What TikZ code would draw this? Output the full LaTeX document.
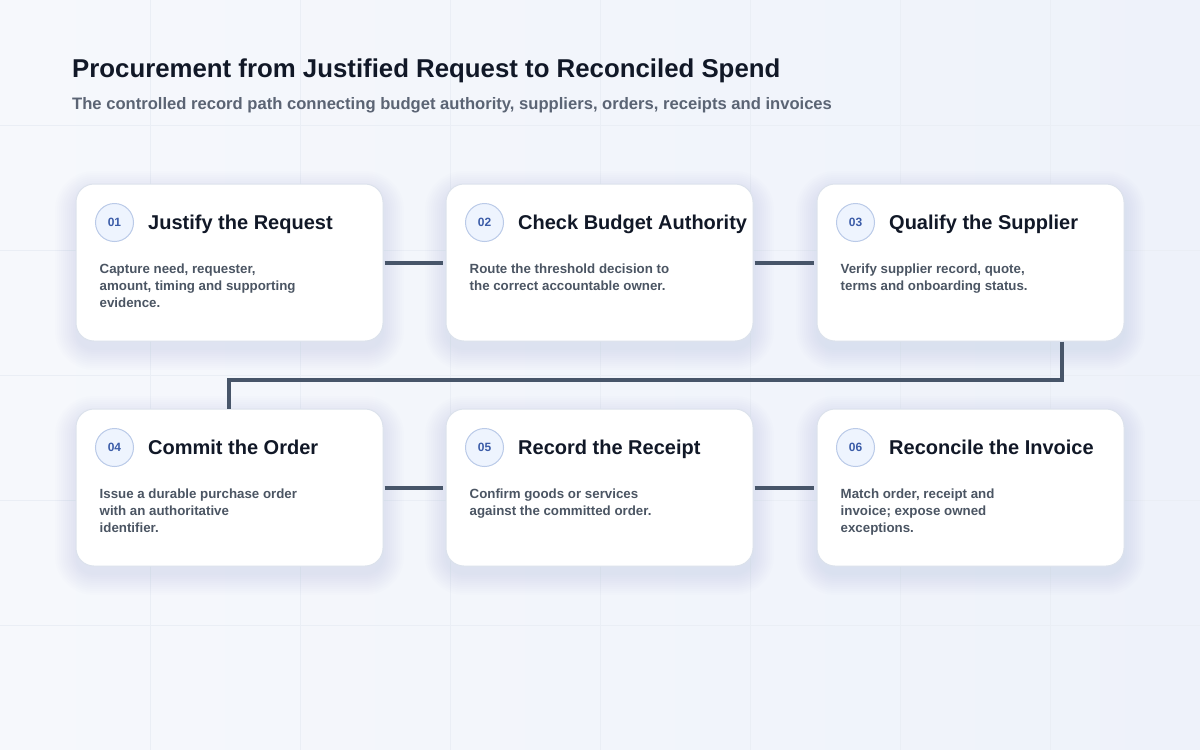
\documentclass[tikz,border=0pt]{standalone}
\usepackage{fontspec}
\setmainfont{Liberation Sans}
\usetikzlibrary{calc}
\definecolor{bgA}{HTML}{F6F8FC}
\definecolor{bgB}{HTML}{EEF2FA}
\definecolor{gridc}{HTML}{EAEEF5}
\definecolor{titlec}{HTML}{111827}
\definecolor{subc}{HTML}{5B6474}
\definecolor{descc}{HTML}{4B5563}
\definecolor{connc}{HTML}{475569}
\definecolor{cardb}{HTML}{DCE2EC}
\definecolor{circf}{HTML}{EEF4FE}
\definecolor{circb}{HTML}{BACAE8}
\definecolor{numc}{HTML}{3B5CA8}
\definecolor{shadc}{HTML}{8490AC}
\tikzset{
  card/.style={draw=cardb, line width=1pt, fill=white, rounded corners=18pt,
    minimum width=307pt, minimum height=157pt, inner sep=0pt},
  numcirc/.style={circle, draw=circb, line width=1pt, fill=circf, minimum size=38pt,
    inner sep=0pt, text=numc, font=\fontsize{12}{12}\selectfont\bfseries},
  cardtitle/.style={anchor=base west, inner sep=0pt, text=titlec,
    font=\fontsize{20}{24}\selectfont\bfseries},
  carddesc/.style={anchor=north west, inner sep=0pt, align=left, text=descc,
    font=\fontsize{13.3}{17}\selectfont\bfseries},
  conn/.style={draw=connc, line width=4pt, line join=miter},
}
\newcommand{\fs}{\rule{0pt}{10pt}}
\begin{document}
\begin{tikzpicture}[x=1pt,y=-1pt]
\useasboundingbox (0,0) rectangle (1200,750);
\shade[left color=bgA, right color=bgB] (0,0) rectangle (1200,750);
\foreach \gx in {150,300,...,1050} \draw[gridc, line width=0.6pt] (\gx,0) -- (\gx,750);
\foreach \gy in {125,250,...,625} \draw[gridc, line width=0.6pt] (0,\gy) -- (1200,\gy);

\node[anchor=base west, inner sep=0pt, text=titlec, font=\fontsize{25.8}{30}\selectfont\bfseries] (title) at (72,77)
  {Procurement from Justified Request to Reconciled Spend};
\node[anchor=base west, inner sep=0pt, text=subc, font=\fontsize{16.6}{20}\selectfont\bfseries] (subtitle) at (72,109)
  {The controlled record path connecting budget authority, suppliers, orders, receipts and invoices};

\coordinate (c1) at (229.5,262.5);
\coordinate (c2) at (599.5,262.5);
\coordinate (c3) at (970.5,262.5);
\coordinate (c4) at (229.5,487.5);
\coordinate (c5) at (599.5,487.5);
\coordinate (c6) at (970.5,487.5);

% soft shadows
\foreach \c in {c1,c2,c3,c4,c5,c6}
  \foreach \i in {1,3,...,21}
    \fill[shadc, opacity=0.013, rounded corners={18pt+\i pt}]
      ($(\c)+(-153.5-\i,-78.5-\i+8)$) rectangle ($(\c)+(153.5+\i,78.5+\i+8)$);

\node[card] (k1) at (c1) {};
\node[card] (k2) at (c2) {};
\node[card] (k3) at (c3) {};
\node[card] (k4) at (c4) {};
\node[card] (k5) at (c5) {};
\node[card] (k6) at (c6) {};

\draw[conn] ([xshift=1pt]k1.east) -- ([xshift=-3pt]k2.west);
\draw[conn] ([xshift=1pt]k2.east) -- ([xshift=-3pt]k3.west);
\draw[conn] ([xshift=1pt]k4.east) -- ([xshift=-3pt]k5.west);
\draw[conn] ([xshift=1pt]k5.east) -- ([xshift=-3pt]k6.west);
\draw[conn] ([xshift=91.5pt]k3.south) -- ++(0,38) -| ([xshift=-0.5pt]k4.north);

% card 1
\node[numcirc] (n1) at ($(k1.north west)+(39,39)$) {01};
\node[cardtitle] (t1) at ($(k1.north west)+(72.5,46)$) {Justify the Request};
\node[carddesc] (d1) at ($(k1.north west)+(24,79.5)$) {\fs Capture need, requester,\\amount, timing and supporting\\evidence.};
% card 2
\node[numcirc] (n2) at ($(k2.north west)+(39,39)$) {02};
\node[cardtitle] (t2) at ($(k2.north west)+(72.5,46)$) {Check Budget Authority};
\node[carddesc] (d2) at ($(k2.north west)+(24,79.5)$) {\fs Route the threshold decision to\\the correct accountable owner.};
% card 3
\node[numcirc] (n3) at ($(k3.north west)+(39,39)$) {03};
\node[cardtitle] (t3) at ($(k3.north west)+(72.5,46)$) {Qualify the Supplier};
\node[carddesc] (d3) at ($(k3.north west)+(24,79.5)$) {\fs Verify supplier record, quote,\\terms and onboarding status.};
% card 4
\node[numcirc] (n4) at ($(k4.north west)+(39,39)$) {04};
\node[cardtitle] (t4) at ($(k4.north west)+(72.5,46)$) {Commit the Order};
\node[carddesc] (d4) at ($(k4.north west)+(24,79.5)$) {\fs Issue a durable purchase order\\with an authoritative\\identifier.};
% card 5
\node[numcirc] (n5) at ($(k5.north west)+(39,39)$) {05};
\node[cardtitle] (t5) at ($(k5.north west)+(72.5,46)$) {Record the Receipt};
\node[carddesc] (d5) at ($(k5.north west)+(24,79.5)$) {\fs Confirm goods or services\\against the committed order.};
% card 6
\node[numcirc] (n6) at ($(k6.north west)+(39,39)$) {06};
\node[cardtitle] (t6) at ($(k6.north west)+(72.5,46)$) {Reconcile the Invoice};
\node[carddesc] (d6) at ($(k6.north west)+(24,79.5)$) {\fs Match order, receipt and\\invoice; expose owned\\exceptions.};
\end{tikzpicture}
\end{document}
